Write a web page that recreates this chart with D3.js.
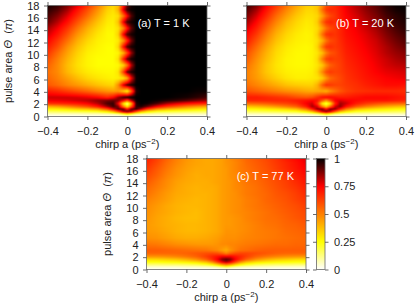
<!DOCTYPE html>
<html>
<head>
<meta charset="utf-8" />
<title>Pulse area vs chirp</title>
<style type="text/css">
body { margin: 0; background: #fff; }
text { font-family: "Liberation Sans", sans-serif; font-size: 11px; fill: #222; white-space: pre; }
.axis path { display: none; }
.axis line { stroke: #444; stroke-width: 0.8px; }
.axis text { font-family: "Liberation Sans", sans-serif; font-size: 11px; fill: #222; }
.frame { fill: none; stroke: #666; stroke-width: 0.8px; }
</style>
<script src="https://cdn.jsdelivr.net/npm/d3@7"></script>
</head>
<body>
<svg width="415" height="305"></svg>
<script type="text/javascript">

var chirps = [-0.4,-0.35,-0.3,-0.25,-0.2,-0.15,-0.1,-0.07,-0.045,-0.02,0,0.02,0.045,0.07,0.1,0.15,0.2,0.25,0.3,0.35,0.4];
var thetas = [0,0.4,0.8,1.2,1.6,2.1,2.6,3.1,4.1,5.1,6.2,7.2,8.3,9.3,10.3,11.3,12.3,13.3,14.3,15.3,16.3,17.3,18];

var xTicks = [-0.4,-0.2,0,0.2,0.4];
var yTicks = [0,2,4,6,8,10,12,14,16,18];
var barTicks = [0,0.25,0.5,0.75,1];
var barLabels = ["0","0.25","0.5","0.75","1"];

// percent, one row per theta (bottom to top), one column per chirp
var valuesA = [
[0,0,0,0,0,0,0,0,0,0,0,0,0,0,0,0,0,0,0,0,0],
[7,7,7,7,8,8,9,10,13,22,30,22,13,10,9,8,8,7,7,7,7],
[16,17,18,19,20,22,30,42,62,85,92,85,62,42,30,22,20,19,18,17,16],
[27,28,31,35,38,44,60,78,92,90,70,90,94,82,64,47,40,36,33,30,28],
[40,43,48,54,60,70,85,94,88,52,30,58,95,97,90,75,64,57,50,45,42],
[66,67,69,71,75,82,93,95,75,30,10,40,96,100,99,93,84,78,73,70,68],
[76,77,78,80,82,86,88,90,88,76,60,82,99,100,100,99,97,95,92,88,85],
[80,80,80,79,77,74,68,74,86,94,98,100,100,100,100,100,100,99,98,96,93],
[70,67,63,59,55,50,46,44,45,36,26,55,97,100,100,100,100,100,100,99,99],
[58,54,49,45,41,37,34,33,48,78,92,97,100,100,100,100,100,100,100,100,100],
[55,50,44,38,33,30,28,27,28,30,42,75,99,100,100,100,100,100,100,100,100],
[53,48,39,33,29,27,26,26,30,62,90,97,100,100,100,100,100,100,100,100,100],
[56,48,38,31,27,25,25,25,26,33,52,82,100,100,100,100,100,100,100,100,100],
[60,50,40,32,27,25,25,25,31,68,90,98,100,100,100,100,100,100,100,100,100],
[65,54,43,34,28,26,25,25,27,40,62,85,100,100,100,100,100,100,100,100,100],
[70,60,47,37,30,27,25,25,33,72,92,98,100,100,100,100,100,100,100,100,100],
[75,65,53,41,33,28,26,26,29,45,68,88,100,100,100,100,100,100,100,100,100],
[80,71,59,46,37,30,26,26,34,75,93,98,100,100,100,100,100,100,100,100,100],
[84,76,65,52,41,33,27,27,31,48,72,90,100,100,100,100,100,100,100,100,100],
[90,82,72,59,47,37,29,28,37,76,94,98,100,100,100,100,100,100,100,100,100],
[93,87,78,66,54,42,31,29,32,52,75,92,100,100,100,100,100,100,100,100,100],
[96,92,84,72,60,47,34,31,40,78,95,99,100,100,100,100,100,100,100,100,100],
[98,95,88,78,66,52,37,33,38,70,90,98,100,100,100,100,100,100,100,100,100]
];

var valuesB = [
[0,0,0,0,0,0,0,0,0,0,0,0,0,0,0,0,0,0,0,0,0],
[7,7,7,7,8,8,9,11,14,22,30,22,14,11,9,8,8,7,7,7,7],
[16,17,18,19,20,22,30,40,58,80,90,80,58,40,30,22,20,19,18,17,16],
[25,26,28,30,33,38,52,70,86,88,72,88,86,70,52,38,33,30,28,26,25],
[36,38,41,45,50,56,70,84,78,50,35,55,80,86,72,58,50,45,41,38,36],
[54,55,57,60,62,66,76,80,65,28,17,30,68,84,80,70,64,60,57,55,54],
[68,68,68,68,68,70,72,74,72,58,46,60,76,78,76,74,72,72,72,70,68],
[70,70,68,66,64,60,58,60,66,72,74,74,72,70,70,72,74,74,74,72,70],
[59,56,53,50,47,45,42,41,42,42,40,47,53,58,62,65,66,67,67,67,66],
[53,49,45,41,37,35,34,34,40,56,65,64,62,62,64,66,69,71,73,73,72],
[50,45,39,34,30,28,28,29,30,35,45,54,58,61,65,68,71,73,75,76,77],
[50,44,36,31,28,27,27,28,33,48,60,64,62,63,66,69,72,75,77,78,79],
[53,45,36,30,27,26,26,27,30,36,47,56,60,63,67,70,73,76,79,81,82],
[57,47,38,31,27,26,26,27,32,50,62,65,63,64,68,71,74,77,80,83,85],
[60,50,40,32,28,26,26,27,30,38,50,58,61,65,69,72,75,78,82,85,87],
[65,54,43,34,29,27,26,27,33,52,64,66,64,66,70,73,76,79,83,87,90],
[70,59,47,37,31,28,27,28,31,40,52,60,63,67,71,74,77,80,85,89,92],
[74,64,51,40,33,29,27,28,34,53,65,67,65,68,72,75,78,82,87,91,94],
[79,69,56,44,36,31,28,29,32,42,53,60,64,68,73,76,80,84,89,93,96],
[84,74,61,49,39,33,29,30,35,54,65,68,66,69,74,77,82,86,91,95,97],
[88,79,67,54,44,36,31,31,33,43,54,61,65,70,75,79,84,88,93,96,98],
[92,84,72,60,49,40,33,33,36,53,64,67,67,71,76,81,86,90,95,98,99],
[95,88,76,64,53,43,35,34,36,48,60,64,67,72,77,82,87,91,96,99,100]
];

var valuesC = [
[0,0,0,0,0,0,0,0,0,0,0,0,0,0,0,0,0,0,0,0,0],
[5,5,5,5,6,6,7,8,10,14,18,14,10,8,7,6,6,5,5,5,5],
[14,14,15,15,16,18,22,27,35,46,52,46,35,27,22,18,16,15,15,14,14],
[24,24,25,26,28,31,38,48,62,76,82,76,62,48,38,31,28,26,25,24,24],
[31,32,34,36,40,46,56,66,76,88,92,88,76,66,56,46,40,36,34,32,31],
[46,46,47,49,52,56,63,68,72,76,76,76,72,68,63,56,52,49,47,46,46],
[55,55,55,55,56,58,60,61,60,56,50,56,60,62,62,60,58,56,55,55,55],
[57,57,56,55,54,53,52,50,48,44,41,46,50,53,54,56,57,57,57,57,57],
[52,51,49,47,46,45,45,45,46,48,48,49,49,50,51,52,53,54,54,55,55],
[47,46,44,42,41,41,42,43,44,46,47,47,47,48,49,50,51,52,53,54,55],
[45,44,42,40,39,39,40,41,42,44,46,46,46,47,48,50,51,52,54,55,56],
[45,43,41,40,39,39,40,41,42,44,45,45,46,47,48,50,52,53,55,56,58],
[46,43,41,39,38,38,40,41,42,44,45,45,46,47,49,51,53,54,56,58,60],
[47,44,42,40,39,38,40,41,42,44,45,46,47,48,49,51,53,55,57,59,61],
[48,45,42,40,39,39,40,41,42,44,45,46,47,48,50,52,54,56,58,60,63],
[50,47,44,41,40,39,40,41,42,44,45,46,47,48,50,52,55,57,59,62,65],
[53,49,45,42,41,40,40,41,42,44,45,46,47,49,51,53,55,58,60,63,67],
[55,51,47,43,41,40,41,41,42,44,45,46,48,49,51,53,56,59,62,65,69],
[58,53,48,44,42,41,41,42,43,44,45,46,48,50,52,54,57,60,63,67,71],
[61,56,50,46,43,41,42,42,43,44,45,47,48,50,52,55,58,61,65,69,73],
[64,58,52,47,44,42,42,42,43,44,45,47,49,51,53,56,59,63,67,71,75],
[67,61,54,49,45,43,42,42,43,44,46,47,49,51,54,57,60,64,68,72,77],
[69,63,56,50,46,43,42,42,43,44,46,48,50,52,55,58,61,65,70,74,78]
];

var svg = d3.select("svg");
var defs = svg.append("defs");

var color = d3.scaleLinear()
    .domain([0, 0.25, 0.75, 1])
    .range(["#ffffff", "#ffff00", "#ff0000", "#000000"])
    .clamp(true);

var minus = function(d) { return String(d).replace("-", "\u2212"); };

// colours the surface like gnuplot pm3d: every pixel blends its four grid neighbours
function surfaceImage(values, x, y, width, height) {
    var w = Math.round(width), h = Math.round(height);
    var canvas = document.createElement("canvas");
    canvas.width = w;
    canvas.height = h;
    var ctx = canvas.getContext("2d");
    var img = ctx.createImageData(w, h);
    var locate = function(list, v) {
        var i = Math.min(Math.max(d3.bisectRight(list, v) - 1, 0), list.length - 2);
        return [i, (v - list[i]) / (list[i + 1] - list[i])];
    };
    for (var py = 0; py < h; py++) {
        var ty = locate(thetas, y.invert((py + 0.5) * height / h));
        for (var px = 0; px < w; px++) {
            var tx = locate(chirps, x.invert((px + 0.5) * width / w));
            var low = values[ty[0]], high = values[ty[0] + 1];
            var a = low[tx[0]] + (low[tx[0] + 1] - low[tx[0]]) * tx[1];
            var b = high[tx[0]] + (high[tx[0] + 1] - high[tx[0]]) * tx[1];
            var c = d3.rgb(color((a + (b - a) * ty[1]) / 100));
            var k = (py * w + px) * 4;
            img.data[k] = c.r; img.data[k + 1] = c.g; img.data[k + 2] = c.b; img.data[k + 3] = 255;
        }
    }
    ctx.putImageData(img, 0, 0);
    return canvas.toDataURL();
}

function drawPanel(values, label, labelEnd, left, top, width, height, showY) {
    var x = d3.scaleLinear().domain([-0.4, 0.4]).range([0, width]),
        y = d3.scaleLinear().domain([0, 18]).range([height, 0]);

    var g = svg.append("g").attr("transform", "translate(" + left + "," + top + ")");

    g.append("image")
      .attr("width", width).attr("height", height)
      .attr("preserveAspectRatio", "none")
      .attr("href", surfaceImage(values, x, y, width, height));

    g.append("rect").attr("class", "frame").attr("width", width).attr("height", height);

    g.append("g").attr("class", "axis")
      .attr("transform", "translate(0," + height + ")")
      .call(d3.axisBottom(x).tickValues(xTicks).tickSize(3.5).tickPadding(7.5).tickFormat(minus));
    g.append("g").attr("class", "axis")
      .call(d3.axisTop(x).tickValues(xTicks).tickSize(3.5).tickFormat(""));
    g.append("g").attr("class", "axis")
      .call(d3.axisLeft(y).tickValues(yTicks).tickSize(3.5).tickPadding(4.5).tickFormat(showY ? d3.format("d") : ""));
    g.append("g").attr("class", "axis")
      .attr("transform", "translate(" + width + ",0)")
      .call(d3.axisRight(y).tickValues(yTicks).tickSize(3.5).tickFormat(""));

    var xLabel = g.append("text")
      .attr("x", width / 2).attr("y", height + 31).attr("text-anchor", "middle");
    xLabel.append("tspan").text("chirp a (ps");
    xLabel.append("tspan").attr("dy", -4).style("font-size", "8px").text("\u22122");
    xLabel.append("tspan").attr("dy", 4).text(")");

    if (showY) {
        var yLabel = g.append("text")
          .attr("transform", "translate(-36," + (height / 2) + ") rotate(-90)")
          .attr("text-anchor", "middle");
        yLabel.append("tspan").text("pulse area ");
        yLabel.append("tspan").style("font-style", "italic").text("\u0398");
        yLabel.append("tspan").text("  (");
        yLabel.append("tspan").style("font-style", "italic").text("\u03c0");
        yLabel.append("tspan").text(")");
    }

    g.append("text")
      .attr("x", labelEnd).attr("y", 21)
      .attr("text-anchor", "end")
      .style("fill", "#fff")
      .text(label);
}

drawPanel(valuesA, "(a) T = 1 K", 142, 47.5, 5.5, 159.5, 111, true);
drawPanel(valuesB, "(b) T = 20 K", 147.5, 246.5, 5.5, 159.5, 111, false);
drawPanel(valuesC, "(c) T = 77 K", 147.5, 146.5, 158.5, 159.5, 111, true);

// colour bar
var barY = d3.scaleLinear().domain([0, 1]).range([111, 0]);
var grad = defs.append("linearGradient").attr("id", "barGrad")
    .attr("x1", 0).attr("y1", 1).attr("x2", 0).attr("y2", 0);
grad.selectAll("stop")
    .data(color.domain())
    .enter()
    .append("stop")
    .attr("offset", function(d) { return d; })
    .attr("stop-color", function(d) { return color(d); });

var bar = svg.append("g").attr("transform", "translate(316.5,158.5)");
bar.append("rect").attr("width", 8.5).attr("height", 111).attr("fill", "url(#barGrad)");
bar.append("rect").attr("class", "frame").attr("width", 8.5).attr("height", 111);
bar.append("g").attr("class", "axis")
  .attr("transform", "translate(8.5,0)")
  .call(d3.axisRight(barY).tickValues(barTicks).tickSize(3.5).tickPadding(5.5)
    .tickFormat(function(d, i) { return barLabels[i]; }));
bar.append("g").attr("class", "axis")
  .call(d3.axisLeft(barY).tickValues(barTicks).tickSize(3.5).tickFormat(""));

</script>
</body>
</html>
